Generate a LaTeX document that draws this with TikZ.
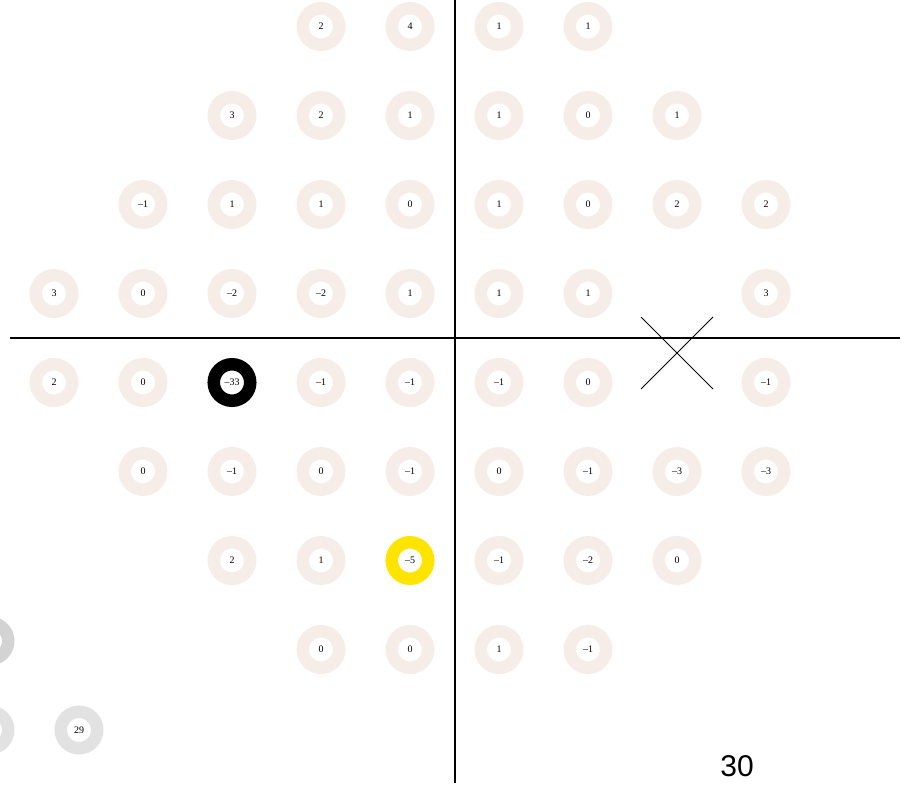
\documentclass[tikz,border=0pt]{standalone}
\usepackage{fontspec}
\setmainfont{Liberation Serif}
\newfontfamily\labelsans{Liberation Sans}
\definecolor{ringcol}{RGB}{247,237,232}
\definecolor{graydark}{RGB}{211,211,211}
\definecolor{graylight}{RGB}{226,226,226}
\definecolor{yellowring}{RGB}{255,228,0}
\begin{document}
\begin{tikzpicture}[x=1pt,y=-1pt,
  ring/.style={circle,draw=ringcol,fill=white,line width=12.5pt,minimum size=36.5pt,inner sep=0pt,font=\fontsize{10}{12}\selectfont},
  blackring/.style={ring,draw=black},
  yellowring/.style={ring,draw=yellowring},
  grayring/.style={ring,draw=graylight},
  darkring/.style={ring,draw=graydark},
  axis/.style={line width=1.6pt},
  crossline/.style={line width=0.8pt}]
\useasboundingbox (0,0) rectangle (908,786);
% axes
\coordinate (vtop) at (455,0);
\coordinate (vbot) at (455,783);
\coordinate (hleft) at (10,338);
\coordinate (hright) at (900,338);
\draw[axis] (vtop) -- (vbot);
\draw[axis] (hleft) -- (hright);
% grid
\foreach \r/\row in {0/{3/2,4/4,5/1,6/1},
                     1/{2/3,3/2,4/1,5/1,6/0,7/1},
                     2/{1/–1,2/1,3/1,4/0,5/1,6/0,7/2,8/2},
                     3/{0/3,1/0,2/–2,3/–2,4/1,5/1,6/1,8/3},
                     4/{0/2,1/0,3/–1,4/–1,5/–1,6/0,8/–1},
                     5/{1/0,2/–1,3/0,4/–1,5/0,6/–1,7/–3,8/–3},
                     6/{2/2,3/1,5/–1,6/–2,7/0},
                     7/{3/0,4/0,5/1,6/–1}}{
  \foreach \c/\v in \row {
    \node[ring] (n\r-\c) at ({54+89*\c},{26.5+89*\r}) {\v};
  }
}
\node[blackring] (n4-2) at (232,382.5) {–33};
\node[yellowring] (n6-4) at (410,560.5) {–5};
% gray rings bottom left
\node[darkring] (g1) at (-10,641) {};
\node[grayring] (g2) at (-10,730) {};
\node[grayring] (g3) at (79,730) {29};
% cross
\coordinate (x1) at (641,317);
\coordinate (x2) at (713,389);
\coordinate (x3) at (641,389);
\coordinate (x4) at (713,317);
\draw[crossline] (x1) -- (x2);
\draw[crossline] (x3) -- (x4);
% page number
\node[font=\labelsans\fontsize{30}{34}\selectfont] (pg) at (737,766) {30};
\end{tikzpicture}
\end{document}
